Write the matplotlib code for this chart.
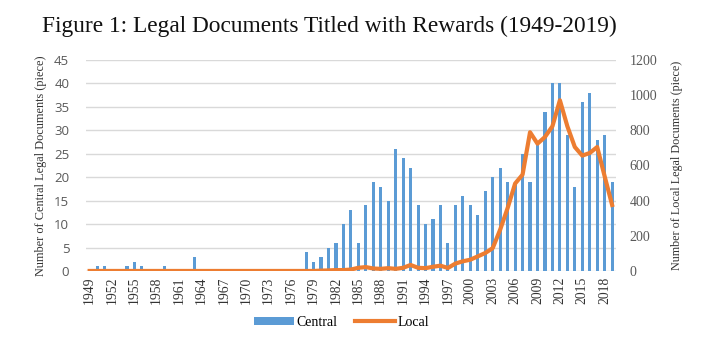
import matplotlib
matplotlib.use("Agg")
import matplotlib.pyplot as plt
from matplotlib.patches import Patch
from matplotlib.lines import Line2D

# data
years = list(range(1949, 2020))
central = [0, 1, 1, 0, 0, 1, 2, 1, 0, 0, 1, 0, 0, 0, 3,
           0, 0, 0, 0, 0, 0, 0, 0, 0, 0, 0, 0, 0, 0,
           4, 2, 3, 5, 6, 10, 13, 6, 14, 19, 18, 15, 26, 24, 22,
           14, 10, 11, 14, 6, 14, 16, 14, 12, 17, 20, 22, 19, 19,
           25, 19, 27, 34, 40, 40, 29, 18, 36, 38, 28, 29, 19]
local = [0, 0, 0, 0, 0, 0, 0, 0, 0, 0, 0, 0, 0, 0, 0,
         0, 0, 0, 0, 0, 0, 0, 0, 0, 0, 0, 0, 0, 0,
         0, 0, 2, 3, 5, 5, 8, 18, 22, 14, 12, 16, 12, 18, 34,
         18, 16, 24, 30, 17, 42, 55, 64, 83, 102, 130, 235, 358, 497,
         548, 789, 724, 762, 823, 971, 823, 705, 656, 671, 705, 538, 375]

left_ticks = [0, 5, 10, 15, 20, 25, 30, 35, 40, 45]
right_ticks = [0, 200, 400, 600, 800, 1000, 1200]
year_labels = years[::3]

blue = "#5B9BD5"
orange = "#ED7D31"
serif = "Liberation Serif"

fig = plt.figure(figsize=(7.22, 3.57), dpi=100)
ax = fig.add_axes([0.119, 0.241, 0.734, 0.591])
ax2 = ax.twinx()

ax.bar(years, central, width=0.42, color=blue, zorder=2)
ax.set_xlim(1948.5, 2019.5)
ax.set_ylim(0, 45)
ax.set_yticks(left_ticks)
ax.yaxis.grid(True, color="#D9D9D9", linewidth=1, zorder=0)
ax.set_axisbelow(True)
ax.set_xticks(year_labels)
ax.set_xticklabels([str(y) for y in year_labels], rotation=90,
                   fontfamily=serif, fontsize=9.8, color="#333333")
for lab in ax.get_yticklabels():
    lab.set_fontfamily("Open Sans")
    lab.set_fontsize(9.5)
    lab.set_color("#595959")
ax.tick_params(axis="both", length=0)
ax.tick_params(axis="y", pad=12)
ax.tick_params(axis="x", pad=4)
ax.set_ylabel("Number of Central Legal Documents (piece)",
              fontfamily=serif, fontsize=8.8, color="#333333", labelpad=5)

ax2.plot(years, local, color=orange, linewidth=3, solid_joinstyle="round", zorder=3)
ax2.set_ylim(0, 1200)
ax2.set_yticks(right_ticks)
for lab in ax2.get_yticklabels():
    lab.set_fontfamily(serif)
    lab.set_fontsize(10)
    lab.set_color("#595959")
ax2.tick_params(axis="y", length=0, pad=10)
ax2.set_ylabel("Number of Local Legal Documents (piece)",
               fontfamily=serif, fontsize=8.7, color="#333333", labelpad=10)

for a in (ax, ax2):
    for s in a.spines.values():
        s.set_visible(False)

fig.text(0.058, 0.925, "Figure 1: Legal Documents Titled with Rewards (1949-2019)",
         fontfamily=serif, fontsize=16.8, color="#111111", va="center", ha="left")

handles = [Patch(facecolor=blue, edgecolor="none"),
           Line2D([0], [0], color=orange, linewidth=3)]
fig.legend(handles, ["Central", "Local"], loc="center", bbox_to_anchor=(0.473, 0.097),
           ncol=2, frameon=False, handlelength=2.9, handleheight=0.5,
           columnspacing=1.2, handletextpad=0.2,
           prop={"family": serif, "size": 10})

fig.savefig("out.png", dpi=100)
